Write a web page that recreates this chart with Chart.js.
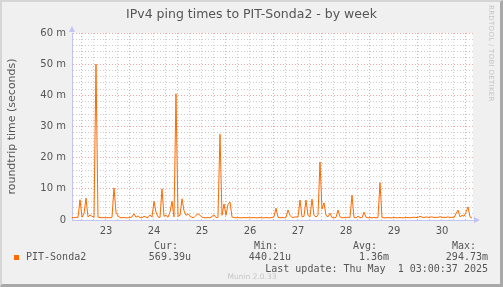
<!DOCTYPE html>
<html>
<head>
<meta charset="utf-8">
<script src="https://cdn.jsdelivr.net/npm/chart.js@4.4.1/dist/chart.umd.min.js"></script>
<style>
  html, body { margin: 0; padding: 0; background: #f0f0f0; }
  #wrap { position: relative; width: 503px; height: 287px; overflow: hidden; background: #f0f0f0; }
  #wrap canvas { position: absolute; left: 0; top: 0; }
  .rim { position: absolute; left: 0; top: 0; width: 503px; height: 287px; box-sizing: border-box;
         border-top: 2px solid #d6d6d6; border-left: 2px solid #d6d6d6;
         border-right: 3px solid #a8a8a8; border-bottom: 3px solid #a8a8a8; pointer-events: none; }
  .title { position: absolute; left: 0; top: 6px; width: 503px; text-align: center;
           font: 12.5px "DejaVu Sans", sans-serif; color: #555; }
  .rrd { position: absolute; left: 487px; top: 5px; writing-mode: vertical-rl;
         font: 7px "DejaVu Sans", sans-serif; color: #c4c4c4; letter-spacing: 0.3px; }
  .mono { position: absolute; font: 10px "DejaVu Sans Mono", monospace; color: #555;
          line-height: 12px; height: 12px; white-space: pre; }
  .swatch { position: absolute; left: 14px; top: 255px; width: 5px; height: 5px; background: #ff6a00; }
  .munin { position: absolute; left: 200px; width: 104px; top: 272px; text-align: center;
           font: 7.5px "DejaVu Sans", sans-serif; color: #c6c6c6; }
</style>
</head>
<body>
<div id="wrap">
  <canvas id="chart" width="503" height="287"></canvas>
  <div class="title">IPv4 ping times to PIT-Sonda2 - by week</div>
  <div class="rrd">RRDTOOL / TOBI OETIKER</div>

  <div class="swatch"></div>
  <div class="mono" style="left:26px; top:251px;">PIT-Sonda2</div>

  <div class="mono" style="right:325px; top:240px;">Cur:</div>
  <div class="mono" style="right:225px; top:240px;">Min:</div>
  <div class="mono" style="right:126px; top:240px;">Avg:</div>
  <div class="mono" style="right:27px; top:240px;">Max:</div>

  <div class="mono" style="right:312px; top:251px;">569.39u</div>
  <div class="mono" style="right:212px; top:251px;">440.21u</div>
  <div class="mono" style="right:114px; top:251px;">1.36m</div>
  <div class="mono" style="right:15px; top:251px;">294.73m</div>

  <div class="mono" style="right:15px; top:263px;">Last update: Thu May  1 03:00:37 2025</div>
  <div class="munin">Munin 2.0.33</div>
  <div class="rim"></div>
</div>

<script>
// ── Data ──────────────────────────────────────────────────────────
// hourly samples, first one at Apr 22 19:00 (day 22 + 19/24)
const START_DAY = 22 + 19 / 24;
const SERIES_NAME = 'PIT-Sonda2';

// roundtrip time in milliseconds, one value per hour
const pingMs = [
  0.8, 0.7, 0.9, 0.8, 6.5, 0.9, 2.0, 7.0, 1.0, 1.6, 1.2, 0.8,
  50.0, 0.9, 0.8, 0.7, 0.8, 0.7, 0.8, 0.7, 0.9, 10.3, 2.5, 1.3,
  0.8, 0.7, 0.8, 0.7, 0.7, 0.8, 1.0, 2.0, 0.9, 1.3, 0.8, 0.7,
  1.2, 0.9, 0.8, 1.6, 0.9, 6.0, 2.5, 1.0, 0.8, 10.0, 1.2, 1.5,
  0.9, 2.5, 6.0, 1.0, 40.5, 1.2, 1.5, 6.8, 3.0, 1.5, 2.0, 1.3,
  0.8, 0.8, 1.5, 2.0, 1.5, 0.9, 0.8, 0.7, 0.8, 0.7, 1.2, 1.6,
  0.8, 0.9, 27.5, 1.5, 5.1, 1.5, 5.0, 5.8, 1.0, 0.8, 0.7, 0.8,
  0.7, 0.7, 0.8, 0.7, 0.8, 0.7, 0.7, 0.8, 0.7, 0.7, 0.8, 0.7,
  0.7, 0.8, 0.7, 0.7, 0.8, 1.0, 3.8, 0.9, 0.7, 0.8, 0.7, 0.8,
  3.2, 1.5, 0.8, 0.9, 1.0, 0.9, 6.4, 1.0, 1.2, 6.4, 1.5, 1.0,
  6.7, 1.5, 1.0, 1.5, 18.6, 3.5, 5.5, 1.5, 1.0, 2.2, 0.8, 0.7,
  0.8, 3.2, 1.0, 0.7, 0.8, 0.7, 0.9, 0.8, 8.0, 0.8, 0.7, 1.2,
  0.8, 0.7, 2.5, 0.9, 0.7, 0.8, 0.7, 0.8, 0.7, 0.8, 12.0, 0.8,
  0.7, 0.7, 0.8, 0.7, 0.7, 0.8, 0.7, 0.7, 0.8, 0.7, 0.7, 0.8,
  0.8, 0.7, 0.8, 0.9, 0.8, 0.8, 1.2, 0.9, 0.8, 1.0, 0.8, 0.9,
  1.0, 0.8, 0.9, 0.8, 1.1, 0.8, 0.9, 0.8, 1.0, 0.8, 0.9, 0.8,
  2.0, 3.2, 1.0, 1.5, 1.2, 2.5, 4.2, 1.0, 0.6
];

// y axis: labelled every 10 ms, minor grid every 2 ms
const yMin = 0;
const yMax = 60;
const yStep = 2;
const yLabelEvery = 10;

// x axis in days of April; grid every 6 h, red line at midnight, label at noon
const xMin = START_DAY;
const xMax = 31.146;
const xStep = 0.25;

const points = pingMs.map((v, i) => ({ x: START_DAY + i / 24, y: v }));

const RED_GRID = 'rgba(232, 130, 130, 0.7)';
const GREY_GRID = 'rgba(180, 180, 180, 0.65)';
const AXIS_BLUE = '#c4c4f4';
const TEXT = '#555';
const FONT = { family: 'DejaVu Sans', size: 10 };

const isWhole = (v, n) => Math.abs(v / n - Math.round(v / n)) < 1e-6;

// ── Plot background + axis arrows ────────────────────────────────
const muninFrame = {
  id: 'muninFrame',
  beforeDraw(chart) {
    const { ctx, chartArea: a } = chart;
    ctx.save();
    ctx.fillStyle = '#fff';
    ctx.fillRect(a.left, a.top, a.right - a.left, a.bottom - a.top);
    ctx.restore();
  },
  afterDraw(chart) {
    const { ctx, chartArea: a } = chart;
    ctx.save();
    ctx.fillStyle = AXIS_BLUE;
    ctx.beginPath();
    ctx.moveTo(a.left - 3, a.top - 1);
    ctx.lineTo(a.left + 3, a.top - 1);
    ctx.lineTo(a.left, a.top - 7);
    ctx.fill();
    ctx.beginPath();
    ctx.moveTo(a.right + 1, a.bottom - 3);
    ctx.lineTo(a.right + 1, a.bottom + 3);
    ctx.lineTo(a.right + 7, a.bottom);
    ctx.fill();
    ctx.restore();
  }
};

new Chart(document.getElementById('chart'), {
  type: 'line',
  data: {
    datasets: [{
      label: SERIES_NAME,
      data: points,
      borderColor: '#ff6a00',
      borderWidth: 1,
      pointRadius: 0,
      tension: 0,
      fill: false,
    }],
  },
  options: {
    responsive: false,
    animation: false,
    devicePixelRatio: 1,
    layout: { padding: { top: 33, right: 30, left: 0, bottom: 0 } },
    plugins: { legend: { display: false }, tooltip: { enabled: false } },
    scales: {
      x: {
        type: 'linear',
        min: xMin,
        max: xMax,
        afterFit: s => { s.height = 67; },
        border: { display: true, color: AXIS_BLUE, width: 1, dash: [1, 2] },
        grid: {
          drawTicks: false,
          lineWidth: 1,
          color: c => isWhole(c.tick.value, 1) ? RED_GRID : GREY_GRID,
        },
        ticks: {
          stepSize: xStep,
          includeBounds: false,
          autoSkip: false,
          maxRotation: 0,
          padding: 5,
          color: TEXT,
          font: FONT,
          callback: v => isWhole(v - 0.5, 1) ? String(Math.floor(v)) : '',
        },
      },
      y: {
        min: yMin,
        max: yMax,
        afterFit: s => { s.width = 72; },
        border: { display: true, color: AXIS_BLUE, width: 1, dash: [1, 2] },
        grid: {
          drawTicks: false,
          lineWidth: 1,
          color: c => isWhole(c.tick.value, yLabelEvery) ? RED_GRID : GREY_GRID,
        },
        ticks: {
          stepSize: yStep,
          autoSkip: false,
          padding: 6,
          color: TEXT,
          font: FONT,
          callback: v => isWhole(v, yLabelEvery) ? (v === 0 ? '0' : v + ' m') : '',
        },
        title: {
          display: true,
          text: 'roundtrip time (seconds)',
          color: TEXT,
          font: { family: 'DejaVu Sans', size: 11 },
          padding: { top: 6, bottom: 0 },
        },
      },
    },
  },
  plugins: [muninFrame],
});
</script>
</body>
</html>
